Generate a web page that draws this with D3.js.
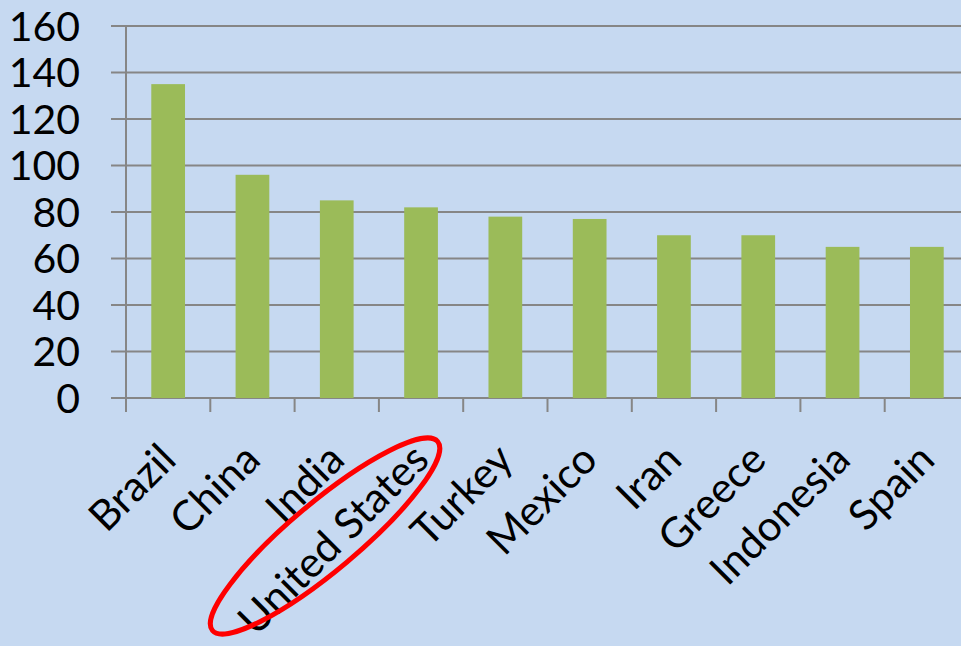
<!DOCTYPE html>
<html>
<head>
<meta charset="utf-8">
<script src="https://cdn.jsdelivr.net/npm/d3@7"></script>
<style>
  body { margin: 0; background: #c6d9f1; }
  text { font-family: Lato, "Open Sans", sans-serif; fill: #000; }
</style>
</head>
<body>
<div id="chart"></div>
<script>
// Countries and their values
let countries = ["Brazil", "China", "India", "United States", "Turkey",
                 "Mexico", "Iran", "Greece", "Indonesia", "Spain"];
let values = [135, 96, 85, 82, 78, 77, 70, 70, 65, 65];
let yTicks = [0, 20, 40, 60, 80, 100, 120, 140, 160];
let highlighted = "United States";

let width = 961;
let height = 646;
let plotLeft = 126, plotTop = 26, plotBottom = 398;
let gridColor = "#868686";

let svg = d3.select("#chart")
  .append("svg")
  .attr("width", width).attr("height", height);

svg.append("rect")
  .attr("width", width).attr("height", height)
  .attr("fill", "#c6d9f1");

// scales
let xScale = d3.scaleBand()
  .domain(countries)
  .range([plotLeft, plotLeft + 10 * 84.3])
  .paddingInner(0.6)
  .paddingOuter(0.3);

let yScale = d3.scaleLinear()
  .domain([0, 160])
  .range([plotBottom, plotTop]);

// horizontal gridlines (with the little tick out to the left)
svg.append("g")
  .selectAll("line")
  .data(yTicks)
  .enter()
  .append("line")
  .attr("x1", plotLeft - 15).attr("x2", width)
  .attr("y1", function(d) { return yScale(d); })
  .attr("y2", function(d) { return yScale(d); })
  .attr("stroke", gridColor).attr("stroke-width", 2);

// y labels
svg.append("g")
  .selectAll("text")
  .data(yTicks)
  .enter()
  .append("text")
  .attr("x", 80)
  .attr("y", function(d) { return yScale(d); })
  .attr("dy", "0.36em")
  .attr("text-anchor", "end")
  .attr("font-size", 41)
  .text(function(d) { return d; });

// vertical axis line
svg.append("line")
  .attr("x1", plotLeft).attr("x2", plotLeft)
  .attr("y1", yScale(160)).attr("y2", plotBottom + 14)
  .attr("stroke", gridColor).attr("stroke-width", 2);

// category tick marks between the bars
let step = xScale.step();
let tickPos = d3.range(countries.length + 1).map(function(i) { return plotLeft + i * step; });
svg.append("g")
  .selectAll("line")
  .data(tickPos)
  .enter()
  .append("line")
  .attr("x1", function(d) { return d; })
  .attr("x2", function(d) { return d; })
  .attr("y1", plotBottom).attr("y2", plotBottom + 14)
  .attr("stroke", gridColor).attr("stroke-width", 2);

// bars
svg.append("g")
  .selectAll("rect")
  .data(values)
  .enter()
  .append("rect")
  .attr("x", function(d, i) { return xScale(countries[i]); })
  .attr("y", function(d) { return yScale(d); })
  .attr("width", xScale.bandwidth())
  .attr("height", function(d) { return plotBottom - yScale(d); })
  .attr("fill", "#9bbb59");

// rotated category labels
svg.append("g")
  .selectAll("text")
  .data(countries)
  .enter()
  .append("text")
  .attr("transform", function(d) {
    let cx = xScale(d) + xScale.bandwidth() / 2;
    return "translate(" + (cx + 10) + "," + (plotBottom + 64) + ") rotate(-45)";
  })
  .attr("text-anchor", "end")
  .attr("font-size", 42)
  .text(function(d) { return d; });

// red ellipse round the highlighted label
let hx = xScale(highlighted) + xScale.bandwidth() / 2;
svg.append("ellipse")
  .attr("transform", "translate(" + (hx - 96) + ",536) rotate(-40)")
  .attr("rx", 147).attr("ry", 34)
  .attr("fill", "none")
  .attr("stroke", "#ff0000")
  .attr("stroke-width", 5);
</script>
</body>
</html>
